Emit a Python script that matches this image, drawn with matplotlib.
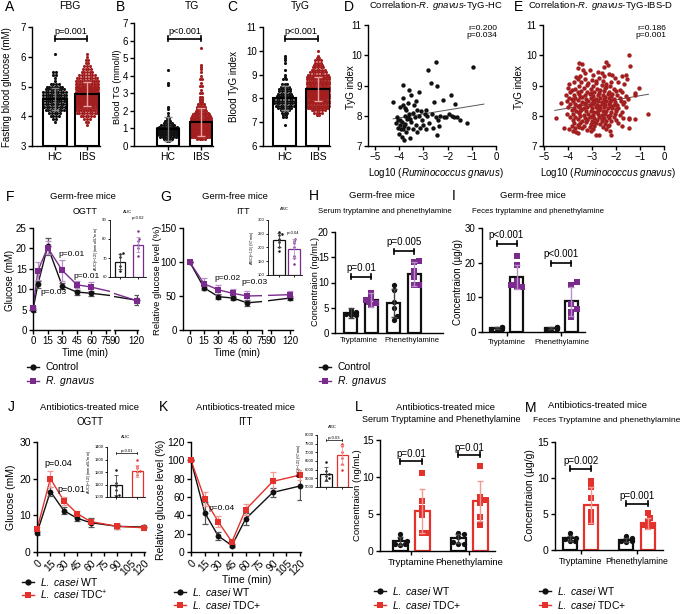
import numpy as np
import matplotlib
matplotlib.use('Agg')
import matplotlib.pyplot as plt
from matplotlib.lines import Line2D

plt.rcParams['font.family'] = ['Liberation Sans', 'DejaVu Sans']
plt.rcParams['mathtext.fontset'] = 'custom'
plt.rcParams['mathtext.rm'] = 'Liberation Sans'
plt.rcParams['mathtext.it'] = 'Liberation Sans:italic'
plt.rcParams['mathtext.bf'] = 'Liberation Sans:bold'

# ======================= DATA =======================
grp_labels = ['HC', 'IBS']
# A  FBG (mM): value levels and number of subjects per level
fbg_hc_levels = [3.8, 3.9, 4.0, 4.1, 4.2, 4.3, 4.4, 4.5, 4.6, 4.7, 4.8, 4.9, 5.0, 5.1, 5.2, 5.3, 5.4, 5.5, 6.1]
fbg_hc_counts = [1, 2, 4, 5, 8, 9, 10, 11, 12, 11, 10, 8, 7, 4, 1, 1, 2, 2, 1]
fbg_ibs_levels = [3.7, 3.8, 3.9, 4.0, 4.1, 4.2, 4.3, 4.4, 4.5, 4.6, 4.7, 4.8, 4.9, 5.0, 5.1, 5.2, 5.3,
                  5.4, 5.5, 5.6, 5.7, 5.8, 5.9, 6.0, 6.1]
fbg_ibs_counts = [1, 2, 3, 6, 9, 14, 18, 22, 25, 28, 28, 27, 24, 20, 16, 12, 9, 7, 5, 4, 3, 2, 2, 1, 1]
fbg_mean = [4.58, 4.75]
fbg_sd = [0.38, 0.40]
# B  TG (mmol/l)
tg_hc_levels = [0.3, 0.4, 0.5, 0.6, 0.7, 0.8, 0.9, 1.0, 1.1, 1.2, 1.3, 1.4, 1.5, 1.6, 1.7, 1.9, 2.1, 2.2, 3.5, 3.6, 4.3]
tg_hc_counts = [2, 4, 7, 10, 12, 12, 10, 9, 8, 6, 4, 3, 2, 2, 1, 1, 1, 1, 1, 1, 1]
tg_ibs_levels = [0.4, 0.5, 0.6, 0.7, 0.8, 0.9, 1.0, 1.1, 1.2, 1.3, 1.4, 1.5, 1.6, 1.7, 1.8, 1.9, 2.0, 2.1,
                 2.2, 2.3, 2.4, 2.5, 2.6, 2.7, 2.8, 3.0, 3.2, 3.4, 3.6, 3.8, 4.0, 4.2, 4.4, 4.5, 4.6, 5.6]
tg_ibs_counts = [4, 10, 16, 22, 25, 26, 25, 23, 20, 17, 14, 12, 10, 8, 7, 6, 5, 4, 4, 3, 3, 2, 2, 2, 2,
                 2, 1, 2, 1, 2, 1, 1, 1, 1, 1, 1]
tg_mean = [0.97, 1.35]
tg_sd = [0.68, 0.80]
# C  TyG index
tyg_hc_levels = [6.9, 7.2, 7.3, 7.4, 7.5, 7.6, 7.7, 7.8, 7.9, 8.0, 8.1, 8.2, 8.3, 8.4, 8.5, 8.6, 8.8, 8.9,
                 9.0, 9.2, 9.5, 9.6, 9.7, 9.8]
tyg_hc_counts = [1, 2, 2, 3, 4, 6, 8, 9, 9, 9, 7, 6, 5, 5, 4, 3, 2, 1, 1, 1, 1, 1, 1, 1]
tyg_ibs_levels = [7.3, 7.4, 7.5, 7.6, 7.7, 7.8, 7.9, 8.0, 8.1, 8.2, 8.3, 8.4, 8.5, 8.6, 8.7, 8.8, 8.9, 9.0,
                  9.1, 9.2, 9.3, 9.4, 9.5, 9.6, 9.7, 9.8, 10.0]
tyg_ibs_counts = [2, 4, 6, 9, 12, 15, 18, 20, 21, 22, 22, 21, 19, 17, 15, 13, 11, 9, 7, 6, 5, 4, 3, 3, 2, 1, 1]
tyg_mean = [8.02, 8.40]
tyg_sd = [0.52, 0.50]
# D  correlation in HC: log10 R. gnavus vs TyG
d_points = ("-4.25,8.47 -4.15,7.75 -4.10,7.95 -4.05,7.60 -4.00,7.40 -3.98,7.70 -3.95,7.85 -3.92,7.55 "
            "-3.90,7.30 -3.88,7.78 -3.85,8.58 -3.85,9.02 -3.83,8.35 -3.80,7.65 -3.80,7.20 -3.78,8.00 "
            "-3.75,7.72 -3.72,7.45 -3.70,8.20 -3.68,7.90 -3.65,7.60 -3.60,8.05 -3.58,8.86 -3.55,7.25 "
            "-3.50,8.70 -3.50,7.80 -3.45,8.10 -3.42,7.55 -3.40,8.35 -3.35,7.95 -3.30,7.70 -3.28,8.20 "
            "-3.25,7.45 -3.20,8.00 -3.18,8.80 -3.15,7.60 -3.10,8.15 -3.05,7.85 -3.00,7.70 -2.95,8.05 "
            "-2.90,7.55 -2.85,8.00 -2.80,9.50 -2.75,7.75 -2.70,9.08 -2.65,8.05 -2.60,7.60 -2.55,8.45 "
            "-2.50,7.95 -2.48,9.77 -2.45,7.38 -2.42,8.98 -2.40,7.85 -2.35,7.65 -2.30,8.00 -2.20,8.52 "
            "-2.15,7.95 -2.05,7.95 -1.95,8.05 -1.85,8.70 -1.80,8.00 -1.75,7.95 -1.70,8.40 -1.60,7.95 "
            "-1.50,7.85 -1.20,7.75 -0.93,9.62 -3.95,8.30 -3.75,8.25 -3.62,8.42 -4.05,7.85 -3.55,7.90 "
            "-3.30,8.50 -2.90,8.20 -3.65,7.95 -3.85,7.55")
d_fit = (0.13, 8.45)          # slope, intercept
d_fit_range = (-4.25, -0.5)
d_stats = "r=0.200\np=0.034"
# E  correlation in IBS-D
e_points = ("-1.45,10.02 -3.55,9.74 -3.42,9.71 -2.42,9.77 -2.35,9.68 -1.40,9.63 -3.60,9.58 -2.48,9.62 "
            "-3.10,9.52 -3.38,9.50 -2.75,9.46 -3.30,9.40 -2.60,9.42 -2.30,9.38 -1.60,9.36 -2.95,9.35 "
            "-3.50,9.30 -2.50,9.33 -2.15,9.35 -1.75,9.30 -3.65,9.27 -3.60,9.22 -3.30,9.20 -3.00,9.18 "
            "-2.70,9.24 -2.05,9.25 -1.55,9.20 -2.85,9.15 -3.75,9.12 -3.45,9.10 -2.85,9.08 -2.55,9.14 "
            "-2.20,9.10 -1.90,9.12 -2.40,9.06 -3.15,9.07 -3.95,9.04 -3.20,9.02 -2.95,8.98 -2.40,8.96 "
            "-1.65,9.04 -3.55,9.00 -2.60,9.02 -2.25,8.97 -4.00,8.91 -3.70,8.88 -3.35,8.93 -3.05,8.90 "
            "-2.80,8.87 -2.45,8.92 -2.10,8.89 -1.85,8.86 -1.05,8.92 -2.65,8.85 -3.85,8.84 -3.90,8.80 "
            "-3.60,8.78 -3.45,8.82 -3.20,8.77 -2.90,8.80 -2.70,8.76 -2.50,8.81 -2.30,8.78 -2.00,8.82 "
            "-1.75,8.79 -1.20,8.74 -3.05,8.75 -2.15,8.73 -4.10,8.70 -3.75,8.68 -3.55,8.72 -3.30,8.69 "
            "-3.10,8.71 -2.95,8.66 -2.75,8.70 -2.55,8.67 -2.35,8.72 -2.20,8.64 -1.95,8.70 -1.60,8.66 "
            "-1.20,8.68 -3.40,8.63 -2.45,8.62 -3.95,8.60 -3.70,8.58 -3.50,8.61 -3.25,8.57 -3.05,8.60 "
            "-2.85,8.56 -2.65,8.59 -2.50,8.55 -2.30,8.60 -2.10,8.57 -1.85,8.58 -1.50,8.55 -3.85,8.54 "
            "-2.95,8.53 -2.20,8.52 -4.05,8.50 -3.80,8.48 -3.60,8.51 -3.40,8.47 -3.15,8.50 -2.90,8.46 "
            "-2.75,8.49 -2.60,8.45 -2.40,8.50 -2.25,8.47 -2.05,8.44 -1.80,8.49 -1.65,8.46 -3.30,8.43 "
            "-2.50,8.42 -3.00,8.41 -4.30,8.42 -3.90,8.38 -3.70,8.40 -3.50,8.36 -3.30,8.39 -3.10,8.37 "
            "-2.95,8.40 -2.80,8.35 -2.60,8.38 -2.45,8.36 -2.30,8.40 -2.10,8.37 -1.95,8.34 -1.70,8.38 "
            "-3.60,8.33 -2.70,8.32 -2.20,8.31 -4.00,8.29 -3.75,8.27 -3.55,8.30 -3.35,8.26 -3.20,8.28 "
            "-3.00,8.25 -2.85,8.29 -2.65,8.26 -2.50,8.28 -2.35,8.24 -2.15,8.27 -1.90,8.25 -1.60,8.28 "
            "-3.45,8.22 -2.75,8.21 -2.00,8.22 -3.85,8.18 -3.65,8.16 -3.45,8.19 -3.25,8.15 -3.05,8.17 "
            "-2.90,8.14 -2.70,8.18 -2.55,8.15 -2.40,8.17 -2.20,8.13 -2.00,8.16 -1.75,8.14 -3.55,8.11 "
            "-2.80,8.11 -4.05,8.07 -3.80,8.05 -3.55,8.08 -3.35,8.04 -3.15,8.06 -2.95,8.03 -2.75,8.07 "
            "-2.60,8.04 -2.45,8.06 -2.25,8.02 -2.05,8.05 -1.85,8.03 -3.00,7.99 -2.35,7.98 -3.90,7.97 "
            "-3.70,7.95 -3.50,7.98 -3.30,7.94 -3.10,7.96 -2.90,7.93 -2.70,7.96 -2.50,7.94 -2.30,7.92 "
            "-2.10,7.95 -1.70,7.93 -1.45,7.92 -0.65,8.06 -3.20,7.90 -2.60,7.89 -4.50,7.92 -3.80,7.86 "
            "-3.60,7.88 -3.40,7.84 -3.20,7.86 -3.00,7.83 -2.80,7.85 -2.60,7.82 -2.40,7.84 -2.20,7.81 "
            "-2.00,7.86 -1.45,7.88 -1.20,7.90 -2.90,7.80 -3.75,7.77 -3.50,7.75 -3.25,7.78 -3.05,7.73 "
            "-2.85,7.76 -2.65,7.72 -2.45,7.74 -2.30,7.71 -1.90,7.76 -3.60,7.70 -3.85,7.66 -3.55,7.64 "
            "-3.35,7.67 -3.10,7.63 -2.90,7.65 -2.55,7.62 -2.35,7.66 -1.75,7.65 -3.70,7.61 -4.15,7.60 "
            "-3.95,7.56 -3.40,7.58 -3.20,7.54 -2.95,7.57 -2.40,7.55 -1.45,7.60 -3.80,7.50 -3.65,7.47 "
            "-3.05,7.49 -2.25,7.51 -3.60,7.43 -2.85,7.36 -2.70,7.36 -2.20,7.37")
e_fit = (0.137, 8.80)
e_fit_range = (-4.55, -0.65)
e_stats = "r=0.186\np=0.001"

# F  germ-free OGTT (mM)
f_t = [0, 5, 15, 30, 45, 60, 120]
f_ctrl = [5.0, 11.2, 20.5, 10.8, 9.3, 9.0, 7.3]
f_ctrl_sd = [0.5, 0.8, 2.0, 0.7, 0.6, 0.6, 1.2]
f_rg = [5.3, 14.5, 20.2, 14.6, 11.1, 10.5, 7.2]
f_rg_sd = [0.5, 2.2, 1.5, 2.5, 0.8, 1.2, 0.6]
f_auc_ctrl = [72.5, 72.0, 70.5, 66.0, 63.0]
f_auc_rg = [84.0, 80.0, 79.0, 77.0, 75.0, 71.0]
f_auc_mean = [68.0, 77.0]
f_auc_sd = [4.0, 4.0]
# G  germ-free ITT (%)
g_t = [0, 15, 30, 45, 60, 120]
g_ctrl = [100, 62, 49, 47, 40, 47]
g_ctrl_sd = [0, 3, 4, 3, 4, 3]
g_rg = [100, 68, 59, 54, 50, 52]
g_rg_sd = [0, 9, 7, 6, 8, 5]
g_abc_ctrl = [255, 250, 245, 232, 220, 200, 188]
g_abc_rg = [232, 225, 215, 200, 170, 160, 140]
g_abc_mean = [228, 195]
g_abc_sd = [25, 35]
# H  serum (ng/mL)
amines = ['Tryptamine', 'Phenethylamine']
h_ctrl = [[4.5, 4.2, 3.9, 3.8, 3.6, 3.5], [9.5, 8.6, 6.2, 5.0, 3.4, 2.6]]
h_rg = [[8.0, 6.9, 6.5, 6.2, 6.0, 5.5], [14.1, 14.2, 12.3, 11.0, 9.5, 9.6]]
h_ctrl_mean = [4.0, 6.0]; h_ctrl_sd = [1.0, 2.8]
h_rg_mean = [6.6, 11.7]; h_rg_sd = [1.4, 2.4]
h_p = ['p=0.01', 'p=0.005']; h_p_y = [11.1, 16.2]
# I  feces (ug/g)
i_ctrl = [[1.5, 1.3, 1.1, 1.0, 0.9, 0.8], [1.5, 1.3, 1.1, 1.0, 0.9, 0.8]]
i_rg = [[22.0, 19.2, 14.8, 13.7, 13.0, 12.9], [14.4, 13.6, 8.0, 6.6, 5.8, 4.3]]
i_ctrl_mean = [1.1, 1.1]; i_ctrl_sd = [0.3, 0.3]
i_rg_mean = [15.8, 8.8]; i_rg_sd = [3.5, 4.2]
i_p = ['p<0.001', 'p<0.001']; i_p_y = [25.4, 19.9]
# J  antibiotics OGTT (mM)
j_t = [0, 15, 30, 45, 60, 90, 120]
j_wt = [5.2, 16.5, 11.3, 9.2, 8.0, 7.0, 6.8]
j_wt_sd = [0.5, 1.2, 1.0, 0.8, 1.3, 0.6, 0.5]
j_tdc = [6.2, 20.0, 14.0, 10.5, 8.3, 7.0, 6.6]
j_tdc_sd = [0.6, 2.2, 1.1, 0.6, 0.7, 0.6, 0.5]
j_auc_wt = [1215, 1110, 1090, 1060, 1020, 1010]
j_auc_tdc = [1295, 1250, 1230, 1210, 1200, 1180]
j_auc_mean = [1095, 1210]
j_auc_sd = [80, 50]
# K  antibiotics ITT (%)
k_t = [0, 15, 30, 45, 60, 90, 120]
k_wt = [100, 43, 17.5, 7, 36, 65, 72]
k_wt_sd = [0, 12, 4, 2, 7, 5, 15]
k_tdc = [100, 58, 33, 11, 46, 77, 84]
k_tdc_sd = [0, 8, 6, 3, 6, 10, 5]
k_abc_wt = [6450, 5900, 5750, 5650, 5500, 5400]
k_abc_tdc = [7500, 7350, 7000, 6700, 6300, 6000]
k_abc_mean = [5750, 6850]
k_abc_sd = [400, 600]
# L  serum (ng/mL)
l_wt = [[2.3, 1.7, 1.3, 1.0, 0.9, 0.8], [2.5, 2.3, 1.9, 1.2, 1.0, 0.9]]
l_tdc = [[10.5, 6.7, 5.8, 4.8, 2.5, 2.5], [11.5, 7.3, 6.9, 6.5, 4.6, 3.5]]
l_wt_mean = [1.35, 1.7]; l_wt_sd = [0.5, 0.6]
l_tdc_mean = [5.4, 6.8]; l_tdc_sd = [3.0, 2.7]
l_p = ['p=0.01', 'p=0.01']; l_p_y = [12.1, 13.0]
# M  feces (ug/g)
m_wt = [[2.4, 1.8, 1.6, 1.5, 1.3, 1.2], [2.0, 1.6, 1.4, 1.3, 1.2, 1.1]]
m_tdc = [[9.6, 8.8, 7.2, 5.3, 4.6, 3.9], [5.1, 4.5, 4.0, 3.5, 3.3, 3.2]]
m_wt_mean = [1.6, 1.4]; m_wt_sd = [0.4, 0.3]
m_tdc_mean = [6.3, 3.7]; m_tdc_sd = [2.5, 0.8]
m_p = ['p=0.002', 'p=0.001']; m_p_y = [11.3, 6.4]

# ======================= STYLE =======================
W, H = 685, 614
fig = plt.figure(figsize=(W / 100, H / 100), dpi=100)
BLACK = '#111111'; PURPLE = '#7b2b8d'; PURPLE_L = '#b890c8'
RED = '#e5312b'; RED_L = '#f29a95'; DRED = '#a31f1f'


def axp(x0, y0, x1, y1):
    return fig.add_axes([x0 / W, 1 - y1 / H, (x1 - x0) / W, (y1 - y0) / H])


def txt(x, y, s, size=7, ha='center', va='center', **kw):
    return fig.text(x / W, 1 - y / H, s, fontsize=size, ha=ha, va=va, **kw)


def style(ax, fs=7, lw=1.0, tl=3):
    for s in ('top', 'right'):
        ax.spines[s].set_visible(False)
    for s in ('left', 'bottom'):
        ax.spines[s].set_linewidth(lw)
    ax.tick_params(direction='out', length=tl, width=lw, labelsize=fs, pad=1.5)
    ax.patch.set_alpha(0)


def pxscale(ax):
    bb = ax.get_position()
    x0, x1 = ax.get_xlim(); y0, y1 = ax.get_ylim()
    return bb.width * W / (x1 - x0), bb.height * H / (y1 - y0)


def band_swarm(ax, levels, counts, pos, color, dot_px=2.6, max_px=11, size=5):
    ppx, ppy = pxscale(ax)
    xs, ys = [], []
    for v, n in zip(levels, counts):
        if n == 1:
            offs = np.array([0.0])
        else:
            step = min(dot_px, 2 * max_px / (n - 1))
            offs = (np.arange(n) - (n - 1) / 2) * step
        xs.extend(pos + offs / ppx); ys.extend([v] * n)
    ax.scatter(xs, ys, s=size, color=color, lw=0, zorder=3)


def bee_offsets(vals, ppx, ppy, d, maxw):
    vals = np.asarray(vals, float)
    out = np.zeros(len(vals)); placed = []
    cand = [0]
    for k in range(1, 30):
        cand += [k, -k]
    for i in np.argsort(vals):
        y = vals[i] * ppy
        x = 0
        for k in cand:
            x = k * d * 0.6
            if all((x - px) ** 2 + (y - py) ** 2 >= d * d for px, py in placed):
                break
        x = max(-maxw, min(maxw, x))
        placed.append((x, y)); out[i] = x / ppx
    return out


def bracket(ax, x0, x1, y, label, fs=7, tick_px=2.5, lw=1.2, off=2):
    ppx, ppy = pxscale(ax)
    h = tick_px / ppy
    ax.plot([x0, x1], [y, y], color='k', lw=lw, clip_on=False, zorder=6)
    for x in (x0, x1):
        ax.plot([x, x], [y - h, y + h], color='k', lw=lw, clip_on=False, zorder=6)
    ax.annotate(label, ((x0 + x1) / 2, y), xytext=(0, off), textcoords='offset points',
                ha='center', va='bottom', fontsize=fs)


def scatter_bar(ax, levels_list, counts_list, means, sds, colors, ecolors, width):
    for k in range(2):
        ax.bar(k, means[k] - ax.get_ylim()[0], width, bottom=ax.get_ylim()[0], color='white',
               edgecolor='none', zorder=1)
        band_swarm(ax, levels_list[k], counts_list[k], k, colors[k],
                   max_px=width * pxscale(ax)[0] * 0.46)
        ax.bar(k, means[k] - ax.get_ylim()[0], width, bottom=ax.get_ylim()[0], fill=False,
               edgecolor='k', linewidth=1.5, zorder=4)
        ax.errorbar([k], [means[k]], yerr=[sds[k]], fmt='none', ecolor=ecolors[k], elinewidth=1,
                    capsize=3, capthick=1, zorder=5)
    ax.set_xticks([0, 1]); ax.set_xticklabels(grp_labels, fontsize=7.5)


def dotbar(ax, pos, mean, sd, pts, edge, ecol, marker, mcol, width, ms=3.8):
    ax.bar(pos, mean, width, color='white', edgecolor=edge, linewidth=1.6, zorder=1)
    ppx, ppy = pxscale(ax)
    offs = bee_offsets(pts, ppx, ppy, 4.3, width * ppx * 0.42)
    ax.plot(pos + offs, pts, ls='none', marker=marker, color=mcol, ms=ms, mew=0, zorder=3, clip_on=False)
    ax.errorbar([pos], [mean], yerr=[sd], fmt='none', ecolor=ecol, elinewidth=1, capsize=2.5,
                capthick=1, zorder=4)


def series(ax, t, y, e, color, ecolor, marker, ms=4.2, lw=1.0):
    t = np.asarray(t, float); y = np.asarray(y, float); e = np.asarray(e, float)
    x0, x1 = ax.get_xlim()
    ax.plot(t, y, color=color, lw=lw, zorder=2)
    m = (t >= x0) & (t <= x1)
    ax.errorbar(t[m], y[m], yerr=e[m], fmt='none', ecolor=ecolor, elinewidth=0.9, capsize=2,
                capthick=0.9, zorder=3)
    ax.plot(t[m], y[m], ls='none', marker=marker, color=color, ms=ms, mew=0, zorder=4, clip_on=False)


def legend_item(xm, y, marker, color, label, fs=7.5, tx=12):
    yy = 1 - y / H
    fig.add_artist(Line2D([(xm - 6) / W, (xm + 6) / W], [yy, yy], color=color, lw=1,
                          transform=fig.transFigure))
    fig.add_artist(Line2D([xm / W], [yy], marker=marker, color=color, ms=4.5, mew=0,
                          transform=fig.transFigure))
    txt(xm + tx, y, label, size=fs, ha='left')


def inset_bar(ax, data_a, data_b, means, sds, col_b, ecol_b, width, ylim, yticks, ylabel):
    ax.set_ylim(*ylim)
    style(ax, fs=3, lw=0.6, tl=1.5)
    ax.tick_params(pad=0.8)
    ax.set_yticks(yticks)
    ax.set_xticks([0, 1]); ax.set_xticklabels(['', ''])
    ax.bar(0, means[0] - ylim[0], width, bottom=ylim[0], color='white', edgecolor=BLACK, lw=0.9, zorder=1)
    ax.bar(1, means[1] - ylim[0], width, bottom=ylim[0], color='white', edgecolor=col_b, lw=0.9, zorder=1)
    ppx, ppy = pxscale(ax)
    for k, (d, c) in enumerate([(data_a, BLACK), (data_b, col_b)]):
        offs = bee_offsets(d, ppx, ppy, 2.2, width * ppx * 0.4)
        ax.plot(k + offs, d, ls='none', marker='o', color=c, ms=1.8, mew=0, zorder=3)
    ax.errorbar([0], [means[0]], yerr=[sds[0]], fmt='none', ecolor='#444444', elinewidth=0.6, capsize=1.5, capthick=0.6, zorder=4)
    ax.errorbar([1], [means[1]], yerr=[sds[1]], fmt='none', ecolor=ecol_b, elinewidth=0.6, capsize=1.5, capthick=0.6, zorder=4)
    ax.set_ylabel(ylabel, fontsize=2.8, labelpad=0.8)


# ======================= ROW 1 =======================
# A
axA = axp(32, 27, 100, 146)
axA.set_ylim(3, 7); axA.set_xlim(-0.7, 1.4)
style(axA)
scatter_bar(axA, [fbg_hc_levels, fbg_ibs_levels], [fbg_hc_counts, fbg_ibs_counts], fbg_mean, fbg_sd,
            [BLACK, DRED], ['#8a8a8a', '#eaa3a3'], 0.75)
axA.set_yticks([3, 4, 5, 6, 7])
bracket(axA, 0, 1, 6.6, 'p=0.001', fs=6.5)
txt(7, 87, 'Fasting blood glucose (mM)', size=7, rotation=90)
txt(5, 7, 'A', size=10, ha='left')
txt(70, 6, 'FBG', size=7.5)

# B
axB = axp(134, 23, 213, 146)
axB.set_ylim(0, 7); axB.set_xlim(-1.02, 1.36)
style(axB)
scatter_bar(axB, [tg_hc_levels, tg_ibs_levels], [tg_hc_counts, tg_ibs_counts], tg_mean, tg_sd,
            [BLACK, DRED], ['#8a8a8a', '#eaa3a3'], 0.68)
axB.set_yticks(range(8))
bracket(axB, 0, 1, 6.09, 'p<0.001', fs=6.5)
txt(118, 87, 'Blood TG (mmol/l)', size=6.6, rotation=90)
txt(116, 7, 'B', size=10, ha='left')
txt(192, 6, 'TG', size=7.5)

# C
axC = axp(263, 27, 330, 146)
axC.set_ylim(6, 11); axC.set_xlim(-0.65, 1.36)
style(axC)
scatter_bar(axC, [tyg_hc_levels, tyg_ibs_levels], [tyg_hc_counts, tyg_ibs_counts], tyg_mean, tyg_sd,
            [BLACK, DRED], ['#8a8a8a', '#eaa3a3'], 0.7)
axC.set_yticks(range(6, 12))
bracket(axC, 0, 1, 10.5, 'p<0.001', fs=6.5)
txt(234, 87, 'Blood TyG index', size=7, rotation=90)
txt(227, 7, 'C', size=10, ha='left')
txt(300, 6, 'TyG', size=7.5)


def parse(s):
    arr = np.array([[float(v) for v in p.split(',')] for p in s.split()])
    return arr[:, 0], arr[:, 1]


for (ax_box, pts, fit, frange, stats, col, letter, lx, title, tx, xlo, ylx, sx) in [
        ((368, 25, 496, 146), d_points, d_fit, d_fit_range, d_stats, BLACK, 'D', 344,
         r'Correlation-$\mathit{R.\ gnavus}$-TyG-HC', 436, -5.29, 351, 497),
        ((543, 25, 664, 146), e_points, e_fit, e_fit_range, e_stats, DRED, 'E', 514,
         r'Correlation-$\mathit{R.\ gnavus}$-TyG-IBS-D', 601, -5.04, 519, 666)]:
    ax = axp(*ax_box)
    ax.set_xlim(xlo, 0); ax.set_ylim(7, 11)
    style(ax)
    ax.set_xticks([-5, -4, -3, -2, -1, 0]); ax.set_yticks([7, 8, 9, 10, 11])
    x, y = parse(pts)
    ax.scatter(x, y, s=10, color=col, lw=0, zorder=3, clip_on=False)
    fx = np.array(frange)
    ax.plot(fx, fit[0] * fx + fit[1], color='#555555', lw=0.7, zorder=2)
    txt(sx, 32, stats, size=6, ha='right', linespacing=1.15)
    txt(lx, 7, letter, size=10, ha='left')
    txt(tx, 6, title, size=6.8)
    txt(ylx, 87, 'TyG index', size=7, rotation=90)
    txt((ax_box[0] + ax_box[2]) / 2 + 4, 173, r'Log10 ($\mathit{Ruminococcus\ gnavus}$)', size=7)

# ======================= ROW 2 =======================
# F
axF1 = axp(33, 228, 110, 330); axF2 = axp(114, 228, 138, 330)
for ax in (axF1, axF2):
    ax.set_ylim(0, 25); style(ax)
axF1.set_xlim(0, 79); axF2.set_xlim(88, 122)
axF1.set_xticks([0, 15, 30, 45, 60, 75]); axF2.set_xticks([90, 120])
axF1.set_yticks(range(0, 26, 5))
axF2.spines['left'].set_visible(False); axF2.set_yticks([])
for ax in (axF1, axF2):
    series(ax, f_t, f_ctrl, f_ctrl_sd, BLACK, '#555555', 'o')
    series(ax, f_t, f_rg, f_rg_sd, PURPLE, PURPLE_L, 's')
txt(53, 293, 'p=0.03', size=6)
txt(72, 255, 'p=0.01', size=6)
txt(87, 276, 'p=0.01', size=6)
txt(10, 280, 'Glucose (mM)', size=7, rotation=90)
txt(85, 353, 'Time (min)', size=7)
txt(6, 197, 'F', size=10, ha='left')
txt(83, 197, 'Germ-free mice', size=6.8)
txt(85, 212, 'OGTT', size=6.5)
axFi = axp(110, 220, 146, 277)
axFi.set_xlim(-0.56, 1.44)
inset_bar(axFi, f_auc_ctrl, f_auc_rg, f_auc_mean, f_auc_sd, PURPLE, PURPLE_L, 0.55, (60, 90),
          [60, 70, 80, 90], r'AUC$_{[0-120]}$ (mmol/L*min)')
txt(128, 212, 'AUC', size=3.2)
txt(138, 218, 'p=0.02', size=3)

# G
axG1 = axp(183, 228, 262, 330); axG2 = axp(268, 228, 293, 330)
for ax in (axG1, axG2):
    ax.set_ylim(0, 150); style(ax)
axG1.set_xlim(-7, 75.5); axG2.set_xlim(86, 124)
axG1.set_xticks([0, 15, 30, 45, 60, 75]); axG2.set_xticks([90, 120])
axG1.set_yticks([0, 50, 100, 150])
axG2.spines['left'].set_visible(False); axG2.set_yticks([])
for ax in (axG1, axG2):
    series(ax, g_t, g_ctrl, g_ctrl_sd, BLACK, '#555555', 'o')
    series(ax, g_t, g_rg, g_rg_sd, PURPLE, PURPLE_L, 's')
txt(227, 279, 'p=0.02', size=6)
txt(254, 283, 'p=0.03', size=6)
txt(157, 280, 'Relative glucose level (%)', size=6.8, rotation=90)
txt(237, 353, 'Time (min)', size=7)
txt(160, 197, 'G', size=10, ha='left')
txt(235, 197, 'Germ-free mice', size=6.8)
txt(243, 212, 'ITT', size=6.5)
axGi = axp(268, 220, 302, 275)
axGi.set_xlim(-0.73, 1.53)
inset_bar(axGi, g_abc_ctrl, g_abc_rg, g_abc_mean, g_abc_sd, PURPLE, PURPLE_L, 0.75, (100, 300),
          [100, 150, 200, 250, 300], r'ABC$_{[0-120]}$ (%*min)')
txt(284, 209, 'ABC', size=3.2)
txt(293, 233, 'p=0.04', size=3)

# H
axH = axp(335, 232, 443, 333)
axH.set_ylim(0, 20); axH.set_xlim(-0.37, 2.14)
style(axH)
axH.set_yticks([0, 5, 10, 15, 20])
for g in range(2):
    dotbar(axH, g, h_ctrl_mean[g], h_ctrl_sd[g], h_ctrl[g], BLACK, '#444444', 'o', BLACK, 0.3)
    dotbar(axH, g + 0.47, h_rg_mean[g], h_rg_sd[g], h_rg[g], BLACK, PURPLE_L, 's', PURPLE, 0.3)
    bracket(axH, g, g + 0.47, h_p_y[g], h_p[g], fs=7, off=3)
axH.set_xticks([0.18, 1.42]); axH.set_xticklabels(amines, fontsize=5.5)
axH.tick_params(axis='x', length=0, pad=3)
txt(315, 282, 'Concentraion (ng/mL)', size=6.6, rotation=90)
txt(309, 196, 'H', size=10, ha='left')
txt(382, 196, 'Germ-free mice', size=6.8)
txt(385, 212, 'Serum tryptamine and phenethylamine', size=5.6)

# I
axI = axp(482, 228, 585, 332)
axI.set_ylim(0, 30); axI.set_xlim(-0.264, 1.61)
style(axI)
axI.set_yticks([0, 10, 20, 30])
for g in range(2):
    dotbar(axI, g, i_ctrl_mean[g], i_ctrl_sd[g], i_ctrl[g], BLACK, '#444444', 'o', BLACK, 0.236)
    dotbar(axI, g + 0.364, i_rg_mean[g], i_rg_sd[g], i_rg[g], BLACK, PURPLE_L, 's', PURPLE, 0.236)
    bracket(axI, g, g + 0.364, i_p_y[g], i_p[g], fs=7, off=3)
axI.set_xticks([0.182, 1.182]); axI.set_xticklabels(amines, fontsize=5.5)
axI.tick_params(axis='x', pad=2)
txt(458, 282, 'Concentraion (µg/g)', size=7, rotation=90)
txt(452, 196, 'I', size=10, ha='left')
txt(533, 196, 'Germ-free mice', size=6.8)
txt(538, 212, 'Feces tryptamine and phenethylamine', size=5.6)

legend_item(33, 367, 'o', BLACK, 'Control')
legend_item(33, 381, 's', PURPLE, r'$\mathit{R.\ gnavus}$')
legend_item(325, 367, 'o', BLACK, 'Control')
legend_item(325, 381, 's', PURPLE, r'$\mathit{R.\ gnavus}$')

# ======================= ROW 3 =======================
tick15 = list(range(0, 121, 15))
# J
axJ = axp(37, 442, 145, 552)
axJ.set_ylim(0, 30); axJ.set_xlim(0, 121)
style(axJ, fs=7.5)
axJ.set_yticks([0, 10, 20, 30])
axJ.set_xticks(tick15)
axJ.set_xticklabels([str(v) for v in tick15], rotation=45, ha='right', rotation_mode='anchor')
series(axJ, j_t, j_wt, j_wt_sd, BLACK, '#555555', 'o')
series(axJ, j_t, j_tdc, j_tdc_sd, RED, RED_L, 's')
txt(58, 463, 'p=0.04', size=6.5)
txt(71, 489, 'p=0.01', size=6.5)
txt(11, 497, 'Glucose (mM)', size=7.5, rotation=90)
txt(8, 407, 'J', size=10, ha='left')
txt(90, 407, 'Antibiotics-treated mice', size=6.8)
txt(90, 422, 'OGTT', size=7)
axJi = axp(107, 447, 145, 497)
axJi.set_xlim(-0.42, 1.35)
inset_bar(axJi, j_auc_wt, j_auc_tdc, j_auc_mean, j_auc_sd, RED, RED_L, 0.52, (1000, 1400),
          [1000, 1100, 1200, 1300, 1400], r'AUC$_{[0-120]}$ (mmol/L*min)')
bracket(axJi, 0, 1, 1350, 'p=0.01', fs=3, tick_px=1, lw=0.5, off=0.5)
txt(126, 437, 'AUC', size=3.2)

# K
axK = axp(191, 442, 301, 552)
axK.set_ylim(0, 120); axK.set_xlim(0, 121)
style(axK, fs=7.5)
axK.set_yticks(range(0, 121, 20))
axK.set_xticks(tick15)
axK.set_xticklabels([str(v) for v in tick15], rotation=45, ha='right', rotation_mode='anchor')
series(axK, k_t, k_wt, k_wt_sd, BLACK, '#555555', 'o')
series(axK, k_t, k_tdc, k_tdc_sd, RED, RED_L, 's')
txt(221, 509, 'p=0.04', size=6)
txt(161, 500, 'Relative glucose level (%)', size=7.5, rotation=90)
txt(247, 580, 'Time (min)', size=7.5)
txt(159, 407, 'K', size=10, ha='left')
txt(246, 407, 'Antibiotics-treated mice', size=6.8)
txt(245, 422, 'ITT', size=7)
axKi = axp(317, 435, 352, 487)
axKi.set_xlim(-0.55, 1.58)
inset_bar(axKi, k_abc_wt, k_abc_tdc, k_abc_mean, k_abc_sd, RED, RED_L, 0.7, (5000, 8000),
          [5000, 5500, 6000, 6500, 7000, 7500, 8000], r'ABC$_{[0-120]}$ (%*min)')
bracket(axKi, 0, 1, 7700, 'p=0.03', fs=3, tick_px=1, lw=0.5, off=0.5)
txt(332, 427, 'ABC', size=3.2)

# L
axL = axp(380, 440, 495, 551)
axL.set_ylim(0, 15); axL.set_xlim(-0.35, 1.63)
style(axL, fs=7.5)
axL.set_yticks([0, 5, 10, 15])
for g in range(2):
    dotbar(axL, g, l_wt_mean[g], l_wt_sd[g], l_wt[g], BLACK, '#444444', 'o', BLACK, 0.26)
    dotbar(axL, g + 0.38, l_tdc_mean[g], l_tdc_sd[g], l_tdc[g], RED, RED_L, 's', RED, 0.26)
    bracket(axL, g, g + 0.38, l_p_y[g], l_p[g], fs=7, off=1.5)
axL.set_xticks([0.19, 1.19]); axL.set_xticklabels(amines, fontsize=6.8)
axL.tick_params(axis='x', pad=2)
txt(357, 495, 'Concentraion (ng/mL)', size=6.8, rotation=90)
txt(355, 407, 'L', size=10, ha='left')
txt(445, 407, 'Antibiotics-treated mice', size=6.8)
txt(441, 420, 'Serum Tryptamine and Phenethylamine', size=6.5)

# M
axM = axp(555, 442, 663, 550)
axM.set_ylim(0, 15); axM.set_xlim(-0.265, 1.65)
style(axM, fs=7.5)
axM.set_yticks([0, 5, 10, 15])
for g in range(2):
    dotbar(axM, g, m_wt_mean[g], m_wt_sd[g], m_wt[g], BLACK, '#444444', 'o', BLACK, 0.25)
    dotbar(axM, g + 0.38, m_tdc_mean[g], m_tdc_sd[g], m_tdc[g], RED, RED_L, 's', RED, 0.25)
    bracket(axM, g, g + 0.38, m_p_y[g], m_p[g], fs=7, off=2)
axM.set_xticks([0.19, 1.19]); axM.set_xticklabels(amines, fontsize=6.3)
axM.tick_params(axis='x', pad=2)
txt(530, 495, 'Concentraion (µg/g)', size=7.5, rotation=90)
txt(525, 408, 'M', size=10, ha='left')
txt(597, 405, 'Antibiotics-treated mice', size=6.8)
txt(607, 420, 'Feces Tryptamine and phenethylamine', size=6.1)

legend_item(28, 582, 'o', BLACK, r'$\mathit{L.\ casei}$ WT')
legend_item(28, 595, 's', RED, r'$\mathit{L.\ casei}$ TDC$^{+}$')
legend_item(180, 592, 'o', BLACK, r'$\mathit{L.\ casei}$ WT')
legend_item(180, 605, 's', RED, r'$\mathit{L.\ casei}$ TDC+')
legend_item(380, 591, 'o', BLACK, r'$\mathit{L.\ casei}$ WT')
legend_item(380, 605, 's', RED, r'$\mathit{L.\ casei}$ TDC+')
legend_item(545, 591, 'o', BLACK, r'$\mathit{L.\ casei}$ WT')
legend_item(545, 605, 's', RED, r'$\mathit{L.\ casei}$ TDC+')

fig.savefig('out.png', dpi=100)
